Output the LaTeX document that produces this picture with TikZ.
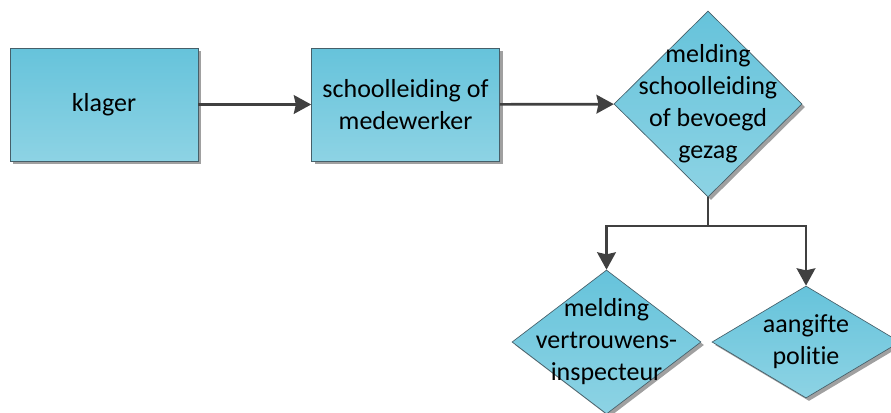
\documentclass[tikz,border=0pt]{standalone}
\usepackage{fontspec}
\setmainfont{Carlito}[Ligatures={NoCommon,NoContextual}]
\usetikzlibrary{shapes.geometric, arrows.meta, shadows}
\definecolor{boxtop}{RGB}{102,195,219}
\definecolor{boxbot}{RGB}{141,211,228}
\definecolor{boxline}{RGB}{70,95,105}
\definecolor{flowgrey}{RGB}{64,64,64}
\definecolor{shadowgrey}{RGB}{160,160,160}
\begin{document}
\begin{tikzpicture}[x=0.75pt, y=-0.75pt,
  box/.style={draw=boxline, line width=0.5pt, top color=boxtop, bottom color=boxbot,
    drop shadow={shadow xshift=2.25pt, shadow yshift=-2.25pt, fill=shadowgrey, opacity=1},
    font=\fontsize{19.5}{24}\selectfont, align=center, inner sep=0pt},
  choice/.style={box, diamond, aspect=1},
  txt/.style={font=\fontsize{19.5}{24}\selectfont, align=center, inner sep=0pt},
  flow/.style={draw=flowgrey, line width=2pt, -{Stealth[length=13pt, width=14pt, inset=1.5pt]}}]
\useasboundingbox (0,0) rectangle (891,412);
% steps
\node[box, minimum width=141pt, minimum height=84.75pt] (klager) at (104,104.5) {klager};
\node[box, minimum width=141pt, minimum height=84.75pt] (leiding) at (405.5,104.5) {schoolleiding of\\medewerker};
% choices
\node[choice, minimum width=141pt, minimum height=139.5pt,
  label={[txt]center:melding\\schoolleiding\\of bevoegd\\gezag}] (melding) at (708,104) {};
\node[choice, minimum width=141.75pt, minimum height=108pt,
  label={[txt]center:melding\\vertrouwens-\\inspecteur}] (inspecteur) at (606.5,342) {};
\node[choice, minimum width=141pt, minimum height=84pt,
  label={[txt]center:aangifte\\politie}] (politie) at (806,342) {};
% arrows
\coordinate (fork) at (708,226);
\draw[flow] (klager) -- (leiding);
\draw[flow] (leiding) -- (melding);
\draw[draw=flowgrey, line width=2pt] (melding.south) -- (fork);
\draw[flow] (fork) -| (inspecteur.north);
\draw[flow] (fork) -| (politie.north);
\end{tikzpicture}
\end{document}
